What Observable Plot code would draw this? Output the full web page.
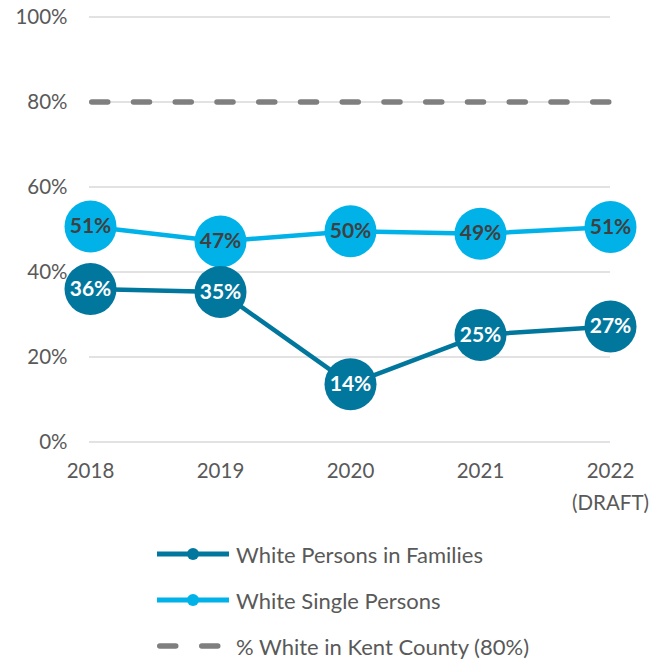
<!DOCTYPE html>
<html>
<head>
<meta charset="utf-8">
<script src="https://cdn.jsdelivr.net/npm/d3@7"></script>
<script src="https://cdn.jsdelivr.net/npm/@observablehq/plot@0.6"></script>
<style>
  body { margin: 0; background: #fff; font-family: Lato, "Open Sans", sans-serif; }
  #chart svg { display: block; }
  .legend { margin-top: 11px; padding-left: 157px; color: #595959; font-size: 22px; }
  .row { display: flex; align-items: center; height: 46px; }
  .row svg { margin-right: 7px; }
</style>
</head>
<body>
<div id="chart"></div>
<div class="legend" id="legend"></div>
<script>
const years = ["2018", "2019", "2020", "2021", "2022"];
const yearLabels = ["2018", "2019", "2020", "2021", "2022\n(DRAFT)"];
const families = [0.360, 0.353, 0.136, 0.252, 0.272];
const singles = [0.507, 0.472, 0.496, 0.490, 0.506];
const familyLabels = ["36%", "35%", "14%", "25%", "27%"];
const singleLabels = ["51%", "47%", "50%", "49%", "51%"];
const kentCounty = 0.80;
const yTicks = [0, 0.2, 0.4, 0.6, 0.8, 1.0];
const seriesNames = ["White Persons in Families", "White Single Persons", "% White in Kent County (80%)"];
const colors = ["#02779E", "#00B2E8", "#7F7F7F"];

const famData = years.map((y, i) => ({year: y, value: families[i], label: familyLabels[i]}));
const sinData = years.map((y, i) => ({year: y, value: singles[i], label: singleLabels[i]}));

const chart = Plot.plot({
  width: 665,
  height: 520,
  marginLeft: 89,
  marginRight: 55,
  marginTop: 16.5,
  marginBottom: 78.5,
  style: {fontFamily: "Lato, 'Open Sans', sans-serif", background: "#fff"},
  x: {type: "point", domain: years, padding: 0},
  y: {domain: [0, 1]},
  marks: [
    Plot.gridY(yTicks, {stroke: "#D9D9D9", strokeOpacity: 1, strokeWidth: 1.5}),
    Plot.axisY({ticks: yTicks, tickFormat: d3.format(".0%"), tickSize: 0, tickPadding: 22, fontSize: 20.5, fill: "#595959", label: null}),
    Plot.axisX({tickFormat: (d) => yearLabels[years.indexOf(d)], tickSize: 0, tickPadding: 13, fontSize: 20.5, fill: "#595959", lineHeight: 1.56, label: null}),
    Plot.ruleY([kentCounty], {stroke: colors[2], strokeWidth: 5.5, strokeDasharray: "16,25.75", strokeDashoffset: -2.75, strokeLinecap: "round"}),
    Plot.line(sinData, {x: "year", y: "value", stroke: colors[1], strokeWidth: 4.5}),
    Plot.line(famData, {x: "year", y: "value", stroke: colors[0], strokeWidth: 4.5}),
    Plot.dot(sinData, {x: "year", y: "value", r: 26, fill: colors[1], stroke: null}),
    Plot.dot(famData, {x: "year", y: "value", r: 26, fill: colors[0], stroke: null}),
    Plot.text(sinData, {x: "year", y: "value", text: "label", fill: "#404040", fontSize: 21, fontWeight: "bold"}),
    Plot.text(famData, {x: "year", y: "value", text: "label", fill: "#fff", fontSize: 21, fontWeight: "bold"})
  ]
});
document.getElementById("chart").append(chart);

const legend = d3.select("#legend");
seriesNames.forEach((name, i) => {
  const row = legend.append("div").attr("class", "row");
  const sw = row.append("svg").attr("width", 72).attr("height", 16);
  if (i < 2) {
    sw.append("line").attr("x1", 0).attr("x2", 72).attr("y1", 8).attr("y2", 8)
      .attr("stroke", colors[i]).attr("stroke-width", 5).attr("stroke-linecap", "round");
    sw.append("circle").attr("cx", 36).attr("cy", 8).attr("r", 6).attr("fill", colors[i]);
  } else {
    sw.append("line").attr("x1", 2.75).attr("x2", 72).attr("y1", 8).attr("y2", 8)
      .attr("stroke", colors[i]).attr("stroke-width", 5.5).attr("stroke-dasharray", "16,26")
      .attr("stroke-linecap", "round");
  }
  row.append("span").text(name);
});
</script>
</body>
</html>
